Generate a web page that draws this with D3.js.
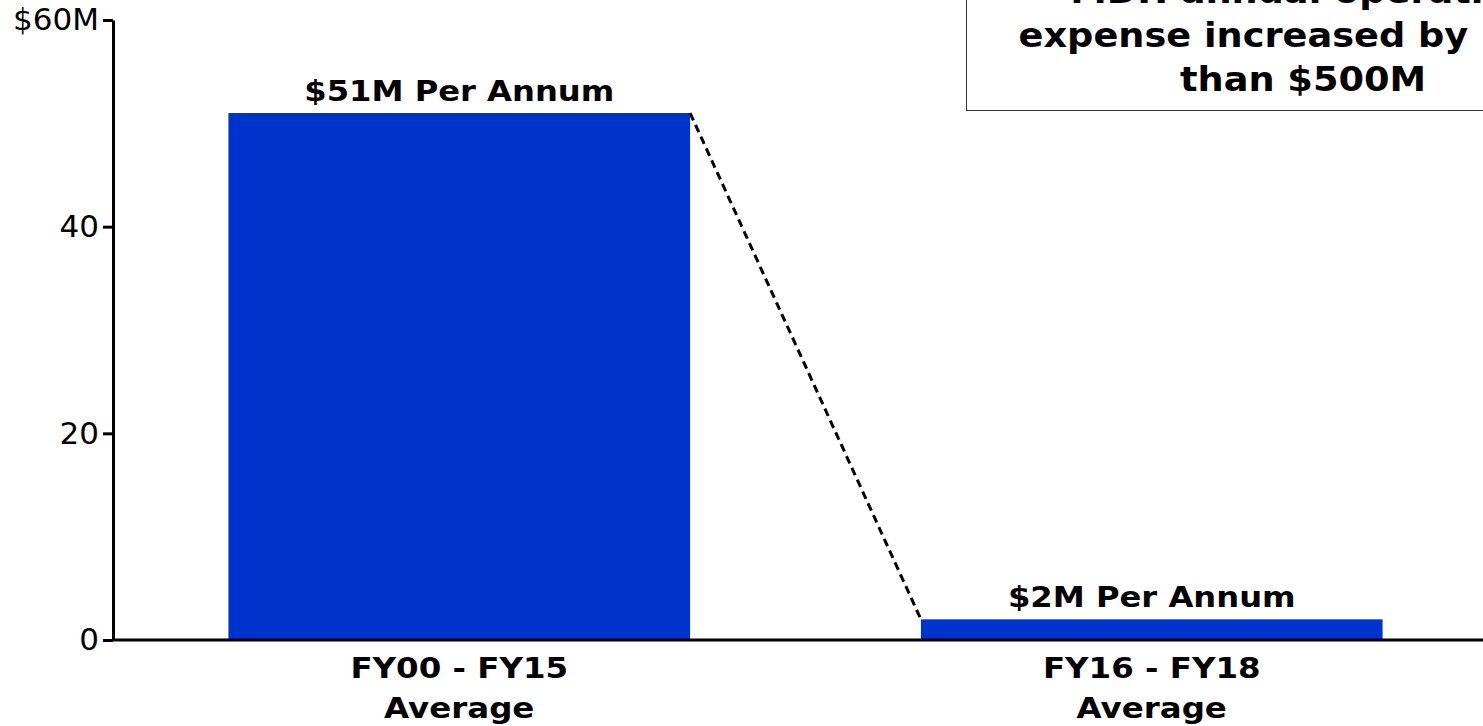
<!DOCTYPE html>
<html>
<head>
<meta charset="utf-8">
<script src="https://cdn.jsdelivr.net/npm/d3@7"></script>
<style>
  html, body { margin: 0; padding: 0; background: #fff; overflow: hidden; }
  svg { display: block; }
</style>
</head>
<body>
<svg id="chart" width="1483" height="726"></svg>
<script>
// Average annual amounts ($M) by period
const categories = ["FY00 - FY15|Average", "FY16 - FY18|Average"];
const values = [51, 2];
const valueLabels = ["$51M Per Annum", "$2M Per Annum"];
const yTicks = [0, 20, 40, 60];
const yTickLabels = ["0", "20", "40", "$60M"];
const calloutLines = ["MDH annual operating", "expense increased by more", "than $500M"];

const svg = d3.select("#chart");
const W = 1483, H = 726;
const FONT = "DejaVu Sans, Verdana, sans-serif";

const x = d3.scaleBand()
  .domain(categories)
  .range([113, 1498])
  .paddingInner(1 / 3)
  .paddingOuter(1 / 6);

const y = d3.scaleLinear().domain([0, 60]).range([640, 20]);

const blue = "#0033cc";

// Wide bold label: text anchored at (cx, cy), stretched horizontally
function wideText(parent, cx, cy, str, size, sx) {
  return parent.append("g")
    .attr("transform", `translate(${cx},${cy}) scale(${sx},1)`)
    .append("text")
    .attr("text-anchor", "middle")
    .attr("font-family", FONT)
    .attr("font-weight", "bold")
    .attr("font-size", size)
    .attr("fill", "#000")
    .text(str);
}

// Bars
svg.append("g").selectAll("rect")
  .data(values)
  .join("rect")
  .attr("x", (d, i) => x(categories[i]))
  .attr("y", d => y(d))
  .attr("width", x.bandwidth())
  .attr("height", d => y(0) - y(d))
  .attr("fill", blue);

// Dashed connector from top-right of first bar to top-left of second
svg.append("line")
  .attr("x1", x(categories[0]) + x.bandwidth())
  .attr("y1", y(values[0]))
  .attr("x2", x(categories[1]))
  .attr("y2", y(values[1]))
  .attr("stroke", "#000")
  .attr("stroke-width", 3)
  .attr("stroke-dasharray", "8,5");

// Value labels above bars
const valG = svg.append("g");
values.forEach((v, i) => {
  wideText(valG, x(categories[i]) + x.bandwidth() / 2, y(v) - 12, valueLabels[i], 29, 1.11);
});

// Y axis
const yAxis = d3.axisLeft(y)
  .tickValues(yTicks)
  .tickFormat((d, i) => yTickLabels[i])
  .tickSize(10)
  .tickSizeOuter(0)
  .tickPadding(4);

const gy = svg.append("g")
  .attr("transform", "translate(113,0)")
  .call(yAxis);
gy.select(".domain").attr("stroke", "#000").attr("stroke-width", 3);
gy.selectAll(".tick line").attr("stroke", "#000").attr("stroke-width", 3);
gy.selectAll(".tick text")
  .attr("font-family", FONT)
  .attr("font-size", 31)
  .attr("fill", "#000");

// X axis baseline
const xAxis = d3.axisBottom(x).tickSize(0).tickFormat("");
const gx = svg.append("g")
  .attr("transform", `translate(0,${y(0)})`)
  .call(xAxis);
gx.select(".domain").attr("stroke", "#000").attr("stroke-width", 3)
  .attr("d", `M113,0H${W}`);

// Category labels (two lines each)
const catG = svg.append("g");
categories.forEach(c => {
  const cx = x(c) + x.bandwidth() / 2;
  c.split("|").forEach((l, j) => {
    wideText(catG, cx, 678 + j * 40, l, 29, 1.12);
  });
});

// Callout box
const box = svg.append("g");
box.append("rect")
  .attr("x", 966.5)
  .attr("y", -20)
  .attr("width", 700)
  .attr("height", 130.5)
  .attr("fill", "#fff")
  .attr("stroke", "#333")
  .attr("stroke-width", 1);
calloutLines.forEach((l, j) => {
  wideText(box, 1303, 3 + j * 44, l, 34, 1.08);
});
</script>
</body>
</html>
